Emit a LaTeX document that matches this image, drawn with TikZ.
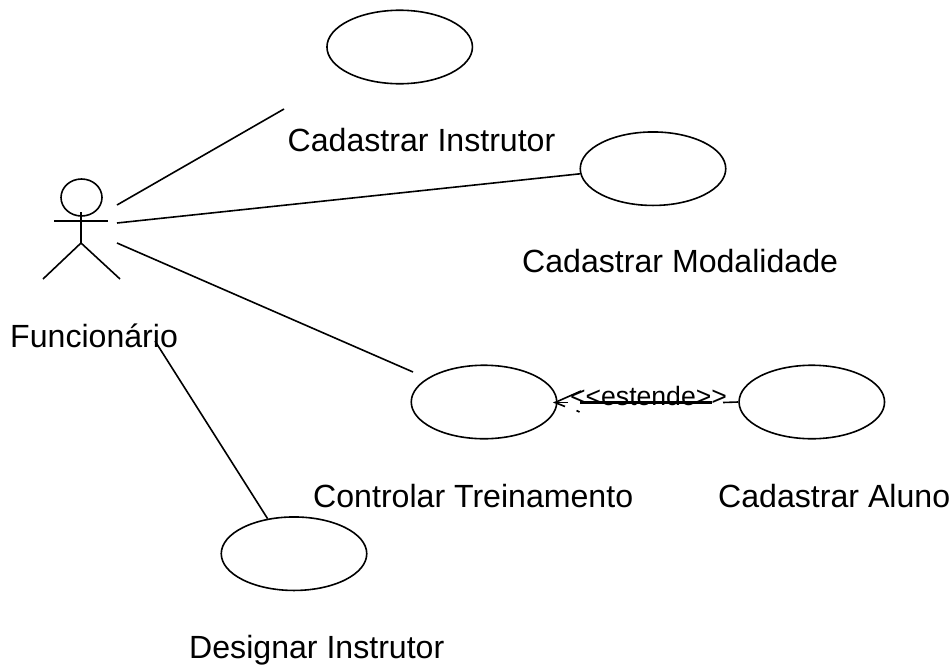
\documentclass[tikz,border=0pt]{standalone}
\usetikzlibrary{shapes.geometric}
\usepackage{fontspec}
\setmainfont{Liberation Sans}
\begin{document}
\begin{tikzpicture}[x=1pt,y=-1pt,
  usecase/.style={draw,line width=1.6pt,ellipse,minimum width=145.5pt,minimum height=73.5pt,inner sep=0pt},
  lbl/.style={inner sep=0pt,font=\fontsize{32.1pt}{36pt}\selectfont,anchor=base west},
  conn/.style={line width=1.6pt}]
\useasboundingbox (0,0) rectangle (952,664);
\node[usecase] (u1) at (399.7,47) {};
\node[usecase] (u2) at (653,168.7) {};
\node[usecase] (u3) at (484,402) {};
\node[usecase] (u4) at (811.8,402) {};
\node[usecase] (u5) at (294,553.7) {};
\node[lbl] (l1) at (287.5,151.5) {Cadastrar Instrutor};
\node[lbl] (l2) at (522,272) {Cadastrar Modalidade};
\node[lbl] (l3) at (313,507.5) {Controlar Treinamento};
\node[lbl] (l4) at (718,507.5) {Cadastrar Aluno};
\node[lbl] (l5) at (189,658) {Designar Instrutor};
\node[lbl] (l6) at (10,347.5) {Funcionário};
\node[draw,ellipse,line width=1.6pt,minimum width=41pt,minimum height=37pt,inner sep=0pt] (head) at (81.5,197.5) {};
\coordinate (neck) at (81,212);
\coordinate (hip) at (81,243);
\coordinate (al) at (54,221);
\coordinate (ar) at (108,221);
\coordinate (fl) at (43,279);
\coordinate (fr) at (120,279);
\draw[conn] (neck) -- (hip);
\draw[conn] (al) -- (ar);
\draw[conn] (fl) -- (hip) -- (fr);
\coordinate (a1) at (117,205);
\coordinate (a1e) at (284,109);
\coordinate (a2) at (117,223);
\coordinate (a3) at (117,243);
\coordinate (a3e) at (413,372);
\coordinate (a4) at (155,341);
\draw[conn] (a1) -- (a1e);
\draw[conn] (a2) -- (u2.184);
\draw[conn] (a3) -- (a3e);
\draw[conn] (a4) -- (u5.127);
\node[inner sep=0pt,anchor=base,font=\fontsize{26.6pt}{30pt}\selectfont] (ext) at (648.5,405.5) {{<}{<}estende{>}{>}};
\coordinate (d1) at (580,402.5);
\coordinate (d2) at (712,402.5);
\coordinate (d3) at (723,402.5);
\coordinate (t0) at (555,402.5);
\coordinate (t1) at (581,391);
\coordinate (t2) at (565,406.5);
\coordinate (t3) at (576.5,410.5);
\coordinate (t4) at (579.5,412);
\coordinate (t5) at (568,402.5);
\draw[line width=2.4pt] (d1) -- (d2);
\draw[conn] (d3) -- (u4.west);
\draw[conn] (t5) -- (t0);
\draw[conn] (t1) -- (t0) -- (t2);
\draw[conn] (t3) -- (t4);
\end{tikzpicture}
\end{document}
